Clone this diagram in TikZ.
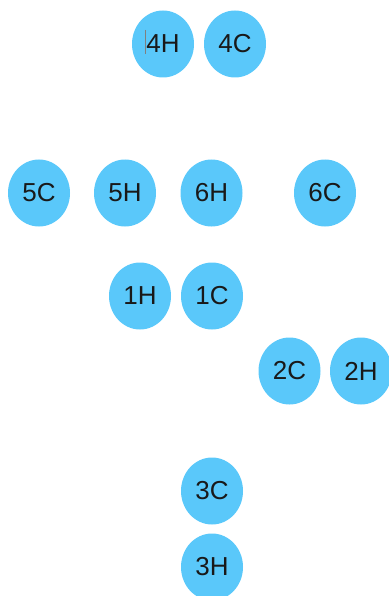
\documentclass[tikz,border=0pt]{standalone}
\usepackage{fontspec}
\setmainfont{Liberation Sans}
\usetikzlibrary{shapes.geometric}
\definecolor{bubble}{HTML}{5AC8FA}
\begin{document}
\begin{tikzpicture}[x=1pt,y=-1pt,
  ball/.style={ellipse,fill=bubble,minimum width=62pt,minimum height=67pt,inner sep=0pt,font=\fontsize{26}{26}\selectfont,text=black!90}]
\useasboundingbox (0,0) rectangle (388,596);
\node[ball] (n4H) at (163,44) {4H};
\node[ball] (n4C) at (235,44) {4C};
\node[ball] (n5C) at (39,193) {5C};
\node[ball] (n5H) at (125,193) {5H};
\node[ball] (n6H) at (211.5,193) {6H};
\node[ball] (n6C) at (325,193) {6C};
\node[ball] (n1H) at (140,296) {1H};
\node[ball] (n1C) at (212,296) {1C};
\node[ball] (n2C) at (289.5,371) {2C};
\node[ball] (n2H) at (361,371) {2H};
\node[ball] (n3C) at (212,491) {3C};
\node[ball] (n3H) at (212,567) {3H};
\draw[gray,line width=1pt] (145,30) -- (145,54);
\end{tikzpicture}
\end{document}
